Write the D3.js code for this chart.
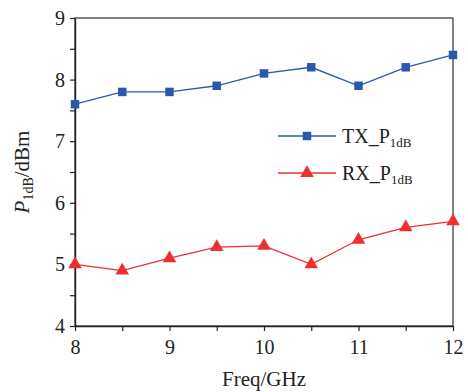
<!DOCTYPE html>
<html>
<head>
<meta charset="utf-8">
<script src="https://cdn.jsdelivr.net/npm/d3@7"></script>
<style>
  html, body { margin: 0; padding: 0; background: #fff; }
  text { font-family: "Liberation Serif", "Times New Roman", serif; fill: #222; }
</style>
</head>
<body>
<svg id="chart" width="468" height="392"></svg>
<script>
// Frequency points (GHz)
const freq = [8, 8.5, 9, 9.5, 10, 10.5, 11, 11.5, 12];
// Output P1dB (dBm) for transmit and receive paths
const txP1dB = [7.6, 7.8, 7.8, 7.9, 8.1, 8.2, 7.9, 8.2, 8.4];
const rxP1dB = [5.0, 4.9, 5.1, 5.28, 5.3, 5.0, 5.4, 5.6, 5.7];
const xTicks = [8, 9, 10, 11, 12];
const yTicks = [4, 5, 6, 7, 8, 9];
const seriesNames = ["TX_P", "RX_P"];

const svg = d3.select("#chart");
const margin = { left: 75, top: 18, right: 15, bottom: 66 };
const W = 468, H = 392;
const x = d3.scaleLinear().domain([8, 12]).range([margin.left, W - margin.right]);
const y = d3.scaleLinear().domain([4, 9]).range([H - margin.bottom, margin.top]);

const blue = "#2b58aa", red = "#ee2f2f";

// frame
svg.append("rect")
  .attr("x", x(8)).attr("y", y(9))
  .attr("width", x(12) - x(8)).attr("height", y(4) - y(9))
  .attr("fill", "none").attr("stroke", "#333").attr("stroke-width", 1.2);

// axes with minor ticks
const styleAxis = g => {
  g.select(".domain").attr("stroke", "#222").attr("stroke-width", 1.4);
  g.selectAll(".tick line").attr("stroke", "#222").attr("stroke-width", 1.2);
  g.selectAll(".tick text").style("font-size", "20px").attr("fill", "#222");
};

svg.append("g").attr("transform", `translate(0,${y(4)})`)
  .call(d3.axisBottom(x).tickValues(d3.range(8, 12.01, 0.5)).tickSize(5).tickSizeOuter(0)
    .tickFormat(d => xTicks.includes(d) ? d : ""))
  .call(styleAxis)
  .call(g => g.selectAll(".tick text").attr("dy", "0.95em").attr("y", 9));

svg.append("g").attr("transform", `translate(${x(8)},0)`)
  .call(d3.axisLeft(y).tickValues(d3.range(4, 9.01, 0.5)).tickSize(5).tickSizeOuter(0)
    .tickFormat(d => yTicks.includes(d) ? d : ""))
  .call(styleAxis)
  .call(g => g.selectAll(".tick text").attr("x", -10));

// series
const series = [
  { name: seriesNames[0], values: txP1dB, color: blue, shape: d3.symbolSquare, size: 72 },
  { name: seriesNames[1], values: rxP1dB, color: red, shape: d3.symbolTriangle, size: 80 }
];
const line = d3.line().x((d, i) => x(freq[i])).y(d => y(d));

series.forEach(s => {
  svg.append("path").datum(s.values)
    .attr("d", line).attr("fill", "none")
    .attr("stroke", s.color).attr("stroke-width", 1.3);
  svg.append("g").selectAll("path").data(s.values).join("path")
    .attr("transform", (d, i) => `translate(${x(freq[i])},${y(d)})`)
    .attr("d", d3.symbol().type(s.shape).size(s.size))
    .attr("fill", s.color);
});

// legend
const leg = svg.append("g").attr("transform", "translate(278,136)");
series.forEach((s, i) => {
  const g = leg.append("g").attr("transform", `translate(0,${i * 37})`);
  g.append("line").attr("x1", 0).attr("x2", 58).attr("y1", 0).attr("y2", 0)
    .attr("stroke", s.color).attr("stroke-width", 1.3);
  g.append("path").attr("transform", "translate(29,0)")
    .attr("d", d3.symbol().type(s.shape).size(s.size)).attr("fill", s.color);
  const t = g.append("text").attr("x", 64).attr("y", 7).style("font-size", "20px");
  t.append("tspan").text(s.name);
  t.append("tspan").attr("dy", 4).style("font-size", "13px").text("1dB");
});

// axis titles
svg.append("text").attr("x", (x(8) + x(12)) / 2).attr("y", 386)
  .attr("text-anchor", "middle").style("font-size", "21px").text("Freq/GHz");

const yl = svg.append("text")
  .attr("transform", `translate(29,${(y(4) + y(9)) / 2}) rotate(-90)`)
  .attr("text-anchor", "middle").style("font-size", "21px");
yl.append("tspan").style("font-style", "italic").text("P");
yl.append("tspan").attr("dy", 4).style("font-size", "14px").text("1dB");
yl.append("tspan").attr("dy", -4).text("/dBm");
</script>
</body>
</html>
